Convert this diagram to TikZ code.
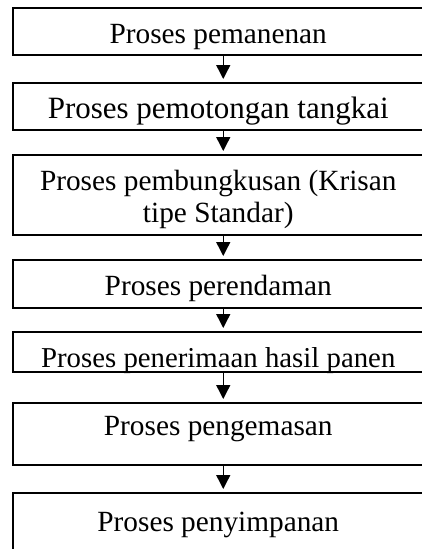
\documentclass[tikz,border=0pt]{standalone}
\usepackage{fontspec}
\setmainfont{Liberation Serif}
\usetikzlibrary{positioning,arrows.meta}

\begin{document}
\begin{tikzpicture}[x=1pt, y=1pt, font=\fontsize{29.3}{32}\selectfont,
    procbox/.style={draw, line width=1.5pt, minimum width=411pt, inner xsep=0pt,
      inner ysep=0pt, text height=36pt, align=center},
    flow/.style={-{Triangle[length=14pt, width=14pt]}, line width=1.4pt, shorten >=3pt}]
  \useasboundingbox (0,0) rectangle (422,-549);
  \clip (0,0) rectangle (422,-549);
  \node[procbox, text depth=11pt, anchor=north west] (panen) at (12,-7) {Proses pemanenan};
  \node[procbox, text depth=11pt, below=26.5pt of panen, font=\fontsize{31}{32}\selectfont] (potong)
    {Proses pemotongan tangkai};
  \node[procbox, text height=68pt, text depth=12pt, below=23.5pt of potong] (bungkus)
    {Proses pembungkusan (Krisan\\ tipe Standar)};
  \node[procbox, text depth=12pt, below=23.5pt of bungkus] (rendam) {Proses perendaman};
  \node[procbox, text depth=4pt, below=22.5pt of rendam, font=\fontsize{28.8}{32}\selectfont] (terima)
    {Proses penerimaan hasil panen};
  \node[procbox, text height=33pt, text depth=29pt, below=29.5pt of terima] (kemas) {Proses pengemasan};
  \node[procbox, text height=39pt, text depth=31pt, below=26.5pt of kemas] (simpan) {Proses penyimpanan};
  \path[flow]
    ([xshift=5pt]panen.south) edge ([xshift=5pt]potong.north)
    ([xshift=5pt]potong.south) edge ([xshift=5pt]bungkus.north)
    ([xshift=5pt]bungkus.south) edge ([xshift=5pt]rendam.north)
    ([xshift=5pt]rendam.south) edge ([xshift=5pt]terima.north)
    ([xshift=5pt]terima.south) edge ([xshift=5pt]kemas.north)
    ([xshift=5pt]kemas.south) edge ([xshift=5pt]simpan.north);
\end{tikzpicture}
\end{document}
